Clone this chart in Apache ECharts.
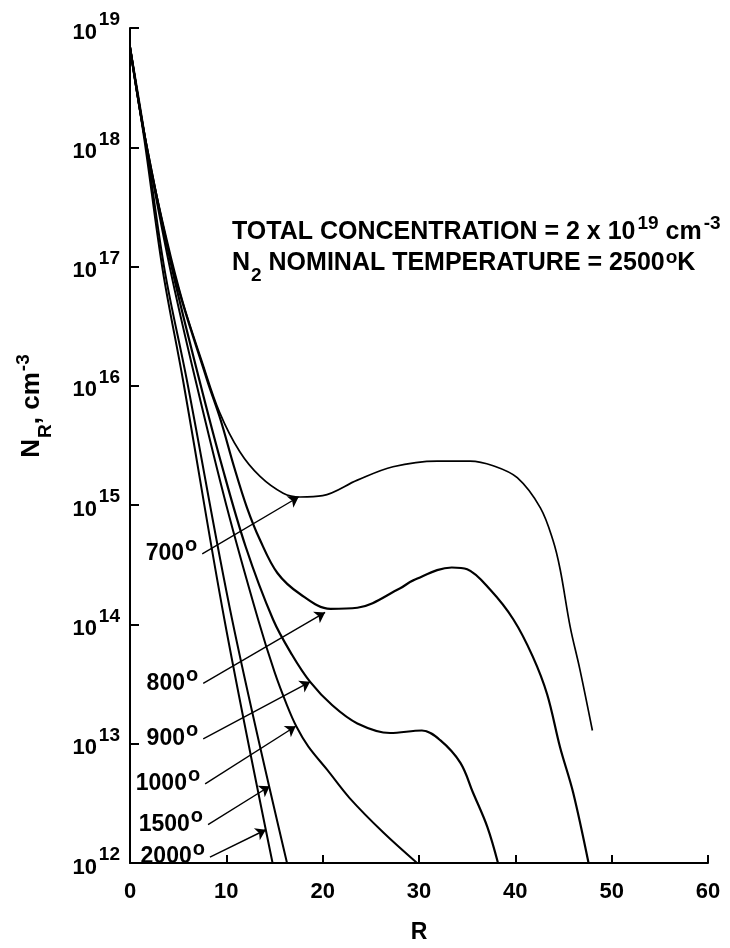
<!DOCTYPE html>
<html><head><meta charset="utf-8">
<script src="https://cdn.jsdelivr.net/npm/echarts/dist/echarts.min.js"></script>
<style>html,body{margin:0;padding:0;background:#fff}#c{width:730px;height:948px}</style>
</head><body><div id="c"></div>
<script>
// ---- data ----
const xTicks = [0, 10, 20, 30, 40, 50, 60];
const yExponents = ['12', '13', '14', '15', '16', '17', '18', '19'];

const r700 = [0, 1.56, 3.84, 5.5, 7.5, 9.3, 11.4, 13.5, 15.9, 17.65, 20.0, 23.6, 27.3, 31.9, 35.3, 37.7, 40.2, 42.6, 43.9, 44.65, 45.7, 46.7, 48.0];
const n700 = [6.9e18, 1.15e18, 1.66e17, 5.0e16, 1.58e16, 6.0e15, 2.8e15, 1.74e15, 1.26e15, 1.17e15, 1.2e15, 1.62e15, 2.1e15, 2.34e15, 2.34e15, 2.14e15, 1.7e15, 9.5e14, 5.1e14, 2.9e14, 9.5e13, 4.2e13, 1.29e13];

const r800 = [0, 1.6, 4.5, 8.0, 9.4, 10.8, 12.15, 13.5, 15.3, 17.65, 20.8, 23.6, 28.0, 29.4, 33.4, 35.0, 37.4, 39.8, 41.8, 43.3, 44.65, 46.0, 47.6];
const n800 = [6.9e18, 1.15e18, 9.3e16, 1.12e16, 5.2e15, 2.1e15, 9.5e14, 5.1e14, 2.7e14, 1.8e14, 1.35e14, 1.38e14, 2.0e14, 2.34e14, 3.0e14, 2.9e14, 1.95e14, 1.1e14, 5.4e13, 2.6e13, 9.3e12, 3.9e12, 1e12];

const r900 = [0, 1.6, 4.4, 7.2, 9.5, 12.0, 14.85, 16.8, 18.7, 21.0, 23.6, 27.0, 30.3, 32.2, 34.3, 35.6, 37.1, 38.2];
const n900 = [6.9e18, 1.15e18, 9.3e16, 1.12e16, 2.2e15, 4.5e14, 1.1e14, 5.6e13, 3.3e13, 2.1e13, 1.48e13, 1.23e13, 1.29e13, 1.07e13, 6.9e12, 3.9e12, 2.0e12, 1e12];

const r1000 = [0, 1.6, 4.2, 6.8, 10.0, 13.3, 15.0, 16.3, 17.3, 18.5, 20.5, 22.8, 26.3, 29.8];
const n1000 = [6.9e18, 1.15e18, 9.3e16, 1.12e16, 1e15, 1.1e14, 4.0e13, 2.1e13, 1.38e13, 9.5e12, 6.0e12, 3.5e12, 1.8e12, 1e12];

const r1500 = [0, 1.6, 3.6, 5.9, 10.6, 16.3];
const n1500 = [6.9e18, 1.15e18, 9.3e16, 1.12e16, 1.1e14, 1e12];

const r2000 = [0, 1.5, 3.4, 5.5, 9.8, 14.8];
const n2000 = [6.9e18, 1.15e18, 9.3e16, 1.12e16, 1.1e14, 1e12];

const labelTemps = ['700', '800', '900', '1000', '1500', '2000'];
const labelFromR = [7.5, 7.6, 7.6, 7.8, 8.1, 8.3];
const labelFromN = [3.9e14, 3.2e13, 1.1e13, 4.6e12, 2.1e12, 1.12e12];
const arrowToR = [17.5, 20.25, 18.7, 17.2, 14.5, 14.1];
const arrowToN = [1.17e15, 1.26e14, 3.3e13, 1.4e13, 4.4e12, 1.9e12];

// ---- chart ----
const FONT = '"Liberation Sans", Arial, Helvetica, sans-serif';
const chart = echarts.init(document.getElementById('c'));
function pairs(r, n) { return r.map((v, i) => [v, n[i]]); }
const curves = [
  { name: '700', r: r700, n: n700, w: 1.7 },
  { name: '800', r: r800, n: n800, w: 2.2 },
  { name: '900', r: r900, n: n900, w: 2.2 },
  { name: '1000', r: r1000, n: n1000, w: 2.0 },
  { name: '1500', r: r1500, n: n1500, w: 2.0 },
  { name: '2000', r: r2000, n: n2000, w: 2.0 }
];
const series = curves.map(c => ({
  type: 'line', name: c.name, data: pairs(c.r, c.n), smooth: 0.35,
  showSymbol: false, symbol: 'none', silent: true, animation: false, z: 3,
  lineStyle: { color: '#000', width: c.w }
}));
const boldTxt = (size, extra) => Object.assign({ fontSize: size, fontWeight: 'bold', fontFamily: FONT, color: '#000' }, extra || {});
series.push({
  type: 'scatter', name: 'labels', symbolSize: 0, silent: true, animation: false, z: 4,
  itemStyle: { color: '#000', opacity: 1 },
  data: labelTemps.map((t, i) => ({ value: [labelFromR[i], labelFromN[i]], name: t })),
  label: {
    show: true, position: 'left', distance: 5, color: '#000', opacity: 1,
    formatter: p => '{t|' + p.name + '}{o|o}',
    rich: { t: boldTxt(23), o: boldTxt(20, { padding: [0, 0, 16, 1] }) }
  },
  markLine: {
    silent: true, animation: false, symbol: ['none', 'arrow'], symbolSize: 10,
    label: { show: false }, emphasis: { disabled: true },
    lineStyle: { color: '#000', width: 1.4, type: 'solid', opacity: 1 },
    data: labelTemps.map((t, i) => [
      { coord: [labelFromR[i], labelFromN[i]] },
      { coord: [arrowToR[i], arrowToN[i]] }
    ])
  }
});

chart.setOption({
  animation: false,
  backgroundColor: '#fff',
  grid: { left: 130, right: 22, top: 28, bottom: 85, containLabel: false, outerBoundsMode: 'none' },
  xAxis: {
    type: 'value', min: xTicks[0], max: xTicks[xTicks.length - 1], interval: xTicks[1] - xTicks[0],
    axisLine: { onZero: false, lineStyle: { color: '#000', width: 2 } },
    axisTick: { inside: true, length: 8, lineStyle: { color: '#000', width: 2 } },
    axisLabel: Object.assign({ margin: 18, formatter: v => String(v) }, boldTxt(22)),
    splitLine: { show: false },
    name: 'R', nameLocation: 'middle', nameGap: 58,
    nameTextStyle: boldTxt(23)
  },
  yAxis: {
    type: 'log', logBase: 10, min: 1e12, max: 1e19, interval: 1, splitNumber: 7,
    axisLine: { onZero: false, lineStyle: { color: '#000', width: 2 } },
    axisTick: { inside: true, length: 9, lineStyle: { color: '#000', width: 2 } },
    axisLabel: {
      margin: 10, color: '#000',
      formatter: v => '{b|10}{s|' + yExponents[Math.round(Math.log10(v)) - 12] + '}',
      rich: { b: boldTxt(22, { padding: [9, 0, 0, 0] }), s: boldTxt(19, { padding: [0, 0, 16, 2] }) }
    },
    splitLine: { show: false }
  },
  graphic: [
    {
      type: 'text', x: 232, y: 232, silent: true,
      style: {
        text: '{a|TOTAL CONCENTRATION = 2 x 10}{s|19}{a| cm}{s|-3}',
        verticalAlign: 'middle', align: 'left',
        rich: { a: boldTxt(25), s: boldTxt(19, { padding: [0, 0, 16, 2] }) }
      }
    },
    {
      type: 'text', x: 232, y: 263, silent: true,
      style: {
        text: '{a|N}{d|2}{a| NOMINAL TEMPERATURE = 2500}{s|o}{a|K}',
        verticalAlign: 'middle', align: 'left',
        rich: { a: boldTxt(25), d: boldTxt(19, { padding: [25, 0, 0, 1] }), s: boldTxt(19, { padding: [0, 0, 11, 1] }) }
      }
    },
    {
      type: 'text', x: 32, y: 406, rotation: Math.PI / 2, silent: true,
      style: {
        text: '{a|N}{d|R}{a|, cm}{s|-3}',
        verticalAlign: 'middle', align: 'center',
        rich: { a: boldTxt(26), d: boldTxt(19, { padding: [27, 0, 0, 1] }), s: boldTxt(19, { padding: [0, 0, 17, 1] }) }
      }
    }
  ],
  series: series
});
</script>
</body></html>
